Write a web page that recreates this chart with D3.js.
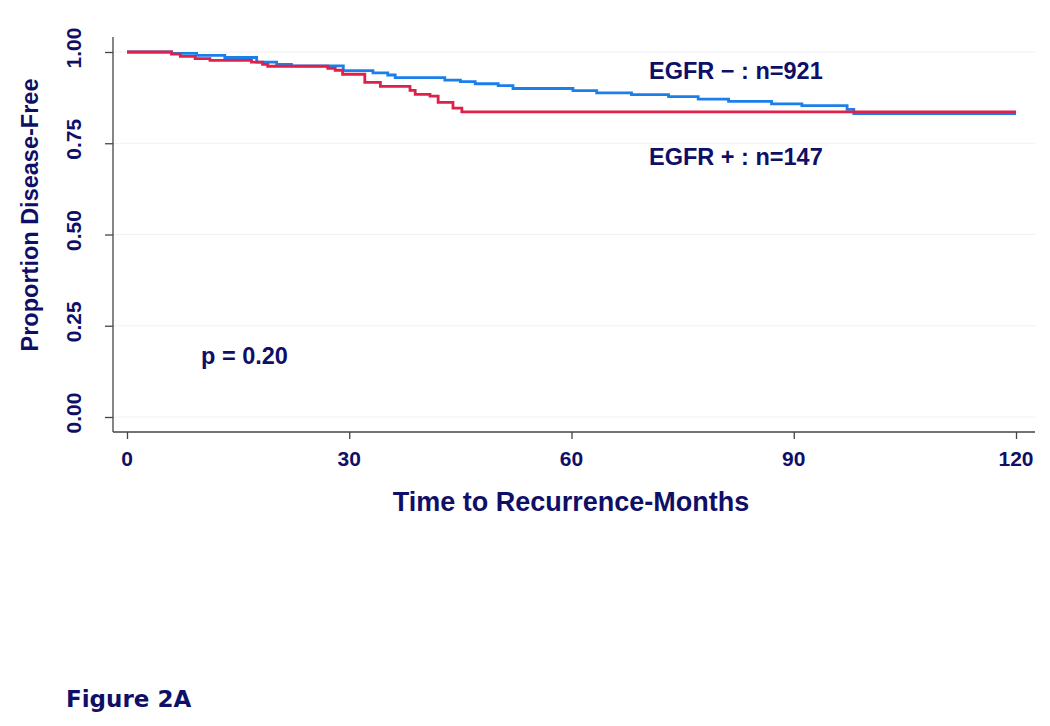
<!DOCTYPE html>
<html>
<head>
<meta charset="utf-8">
<script src="https://cdn.jsdelivr.net/npm/d3@7"></script>
<style>
  html, body { margin: 0; padding: 0; background: #fff; }
  svg { display: block; }
</style>
</head>
<body>
<svg id="chart" width="1050" height="726"></svg>
<script>
// ---- data ----
const xTicks = [0, 30, 60, 90, 120];
const yTicks = [0, 0.25, 0.5, 0.75, 1.0];
const yTickLabels = ["0.00", "0.25", "0.50", "0.75", "1.00"];

// EGFR negative (blue), step times (months) and survival after each step
const negTimes = [0, 6.0, 9.4, 13.2, 17.5, 20.2, 22.2, 29.2, 33.2, 35.2, 36.2, 42.9, 45.0, 47.0, 50.1, 52.1, 60.2, 63.4, 68.1, 73.1, 77.1, 81.2, 87.0, 91.1, 97.2, 98.1, 120];
const negSurv  = [1.0, 0.996, 0.991, 0.985, 0.972, 0.966, 0.962, 0.949, 0.943, 0.937, 0.930, 0.923, 0.919, 0.913, 0.908, 0.900, 0.894, 0.888, 0.883, 0.878, 0.871, 0.865, 0.858, 0.853, 0.843, 0.831, 0.831];

// EGFR positive (red)
const posTimes = [0, 6.0, 7.2, 9.2, 11.2, 16.8, 18.3, 19.0, 27.1, 28.1, 29.1, 32.1, 34.2, 38.2, 38.9, 40.9, 42.0, 44.0, 45.2, 120];
const posSurv  = [1.0, 0.994, 0.988, 0.982, 0.977, 0.972, 0.966, 0.961, 0.955, 0.950, 0.939, 0.917, 0.906, 0.895, 0.884, 0.879, 0.862, 0.846, 0.836, 0.836];

const seriesNames = ["EGFR \u2212 : n=921", "EGFR + : n=147"];
const pLabel = "p = 0.20";
const xTitle = "Time to Recurrence-Months";
const yTitle = "Proportion Disease-Free";
const figLabel = "Figure 2A";

// ---- drawing ----
const navy = "#0f0f68";
const blue = "#1b7fe9";
const red = "#de204a";
const font = "'Liberation Sans', Arial, sans-serif";

const svg = d3.select("#chart");
const x = d3.scaleLinear().domain([0, 120]).range([127, 1016]);
const y = d3.scaleLinear().domain([0, 1]).range([417, 52]);

const axisLeftX = 113, axisBottomY = 432, plotRight = 1035, plotTop = 37;

// grid lines
svg.append("g").selectAll("line").data(yTicks).join("line")
  .attr("x1", axisLeftX).attr("x2", plotRight)
  .attr("y1", d => y(d)).attr("y2", d => y(d))
  .attr("stroke", "#edf2f4").attr("stroke-width", 1);

// y axis
const yAxis = svg.append("g").attr("transform", `translate(${axisLeftX},0)`)
  .call(d3.axisLeft(y).tickValues(yTicks).tickSize(8).tickFormat(""));
yAxis.select(".domain").remove();
yAxis.selectAll(".tick line").attr("stroke", "#444").attr("stroke-width", 1.3);
svg.append("line").attr("x1", axisLeftX).attr("x2", axisLeftX)
  .attr("y1", plotTop).attr("y2", axisBottomY)
  .attr("stroke", "#444").attr("stroke-width", 1.3);

svg.append("g").selectAll("text").data(yTicks).join("text")
  .attr("transform", (d) => `translate(81,${y(d) - 4}) rotate(-90)`)
  .attr("text-anchor", "middle")
  .attr("font-family", font).attr("font-weight", "bold").attr("font-size", 21)
  .attr("fill", navy)
  .text((d, i) => yTickLabels[i]);

// x axis
const xAxis = svg.append("g").attr("transform", `translate(0,${axisBottomY})`)
  .call(d3.axisBottom(x).tickValues(xTicks).tickSize(7).tickFormat(""));
xAxis.select(".domain").remove();
xAxis.selectAll(".tick line").attr("stroke", "#444").attr("stroke-width", 1.3);
svg.append("line").attr("x1", axisLeftX).attr("x2", plotRight)
  .attr("y1", axisBottomY).attr("y2", axisBottomY)
  .attr("stroke", "#444").attr("stroke-width", 1.3);

svg.append("g").selectAll("text").data(xTicks).join("text")
  .attr("x", d => x(d)).attr("y", 466)
  .attr("text-anchor", "middle")
  .attr("font-family", font).attr("font-weight", "bold").attr("font-size", 21)
  .attr("fill", navy)
  .text(d => d);

// titles
svg.append("text").attr("x", 571).attr("y", 511).attr("text-anchor", "middle")
  .attr("font-family", font).attr("font-weight", "bold").attr("font-size", 27)
  .attr("fill", navy).text(xTitle);

svg.append("text").attr("transform", "translate(38,215) rotate(-90)")
  .attr("text-anchor", "middle")
  .attr("font-family", font).attr("font-weight", "bold").attr("font-size", 23.5)
  .attr("fill", navy).text(yTitle);

// curves
const line = d3.line().curve(d3.curveStepAfter)
  .x(d => x(d[0])).y(d => y(d[1]));
const negData = negTimes.map((t, i) => [t, negSurv[i]]);
const posData = posTimes.map((t, i) => [t, posSurv[i]]);

svg.append("path").datum(negData).attr("d", line)
  .attr("fill", "none").attr("stroke", blue).attr("stroke-width", 2.8);
svg.append("path").datum(posData).attr("d", line)
  .attr("fill", "none").attr("stroke", red).attr("stroke-width", 2.8);

// annotations
svg.append("text").attr("x", 649).attr("y", 79).attr("font-family", font)
  .attr("font-weight", "bold").attr("font-size", 23.5).attr("fill", navy)
  .text(seriesNames[0]);
svg.append("text").attr("x", 649).attr("y", 165).attr("font-family", font)
  .attr("font-weight", "bold").attr("font-size", 23.5).attr("fill", navy)
  .text(seriesNames[1]);
svg.append("text").attr("x", 201).attr("y", 364).attr("font-family", font)
  .attr("font-weight", "bold").attr("font-size", 23.5).attr("fill", navy)
  .text(pLabel);

svg.append("text").attr("x", 66).attr("y", 707).attr("font-family", "Tahoma, 'DejaVu Sans', sans-serif")
  .attr("font-weight", "bold").attr("font-size", 23).attr("fill", navy)
  .text(figLabel);
</script>
</body>
</html>
